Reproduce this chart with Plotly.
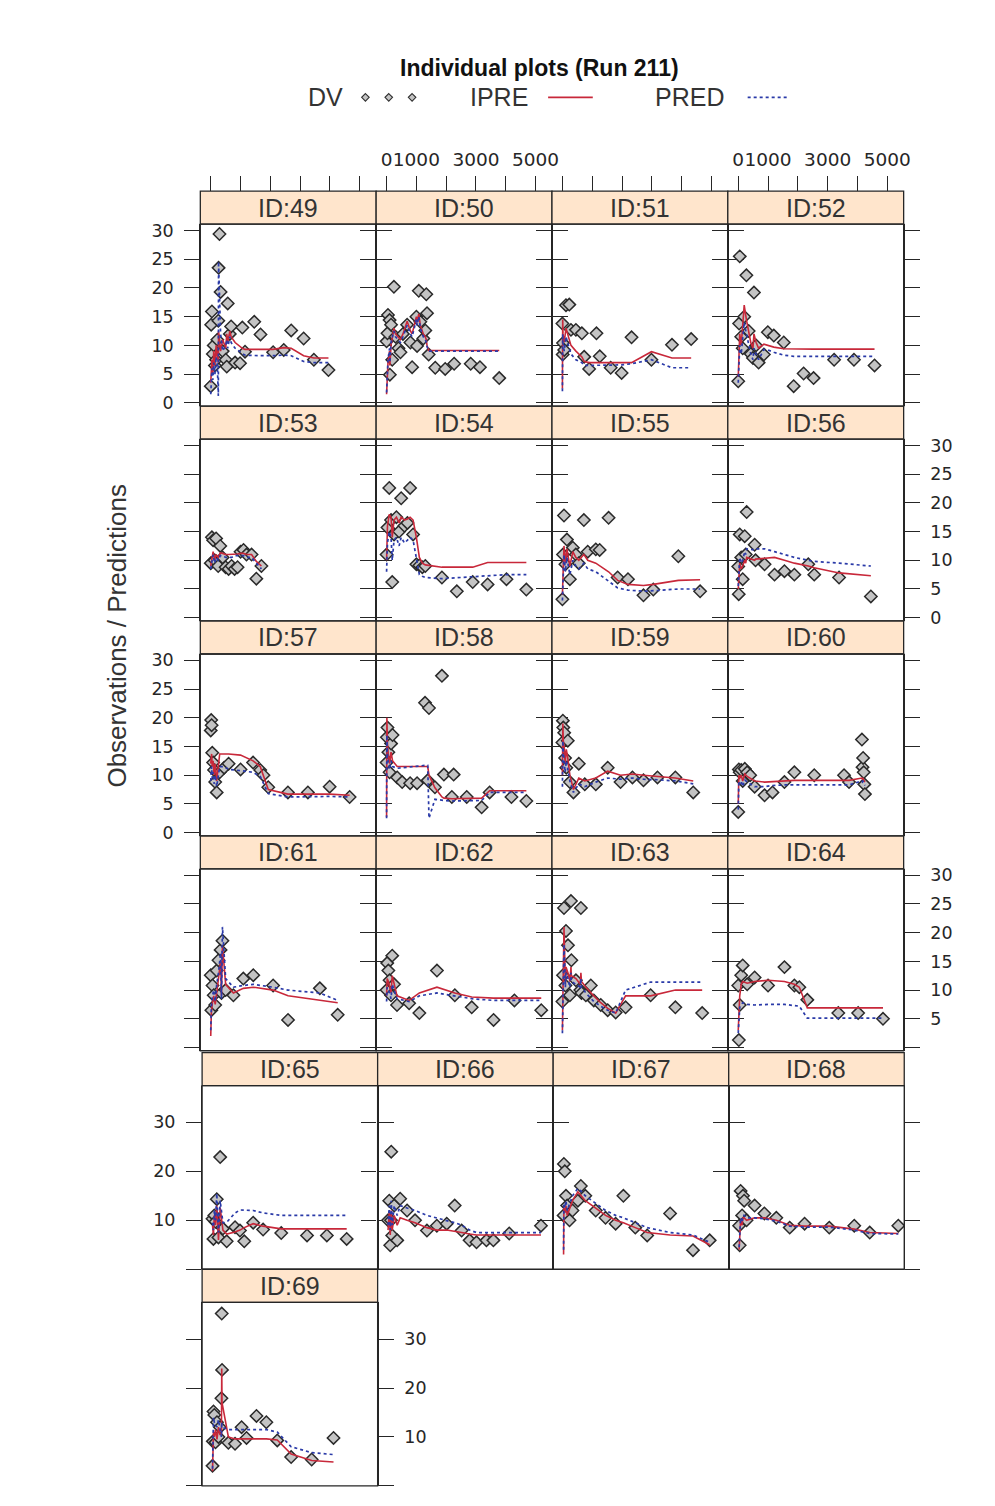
import plotly.graph_objects as go

# page is 995x1506; the browser puts the figure 8 px in from the top-left corner
OFF = 8
W, H = 995 - 2 * OFF, 1506 - 2 * OFF

# ---------------- data ----------------
TIME = {
    49: [0, 15, 40, 70, 100, 140, 180, 220, 255, 262, 293, 330, 400, 503, 537, 570, 640, 683, 817, 983, 1060, 1150, 1460, 1670, 2093, 2450, 2700, 3117, 3460, 3950],
    50: [0, 30, 47, 100, 110, 150, 190, 246, 300, 400, 466, 550, 690, 800, 857, 1000, 1023, 1080, 1133, 1233, 1300, 1333, 1357, 1413, 1633, 1967, 2267, 2823, 3133, 3780],
    51: [0, 10, 20, 60, 120, 230, 287, 453, 653, 730, 897, 1143, 1253, 1620, 1987, 2320, 2987, 3677, 4320],
    52: [0, 30, 50, 100, 150, 200, 273, 350, 420, 493, 527, 600, 683, 860, 993, 1193, 1527, 1860, 2193, 2527, 3217, 3883, 4573],
    53: [0, 40, 80, 130, 180, 250, 320, 400, 500, 600, 700, 800, 900, 1000, 1100, 1200, 1370, 1530, 1700],
    54: [0, 30, 90, 150, 190, 250, 330, 420, 490, 600, 700, 790, 890, 1000, 1100, 1200, 1300, 1857, 2357, 2890, 3390, 4023, 4690],
    55: [0, 20, 53, 100, 150, 250, 350, 450, 550, 720, 850, 1120, 1250, 1550, 1853, 2200, 2720, 3050, 3890, 4620],
    56: [0, 17, 50, 100, 150, 217, 250, 283, 550, 580, 883, 1217, 1550, 1883, 2350, 2550, 3383, 4450],
    57: [0, 15, 30, 50, 80, 110, 150, 200, 300, 450, 600, 1000, 1420, 1660, 1770, 1930, 2590, 3260, 3990, 4660],
    58: [0, 10, 30, 60, 100, 150, 200, 357, 523, 790, 1023, 1290, 1380, 1423, 1623, 1857, 1923, 2190, 2250, 2690, 3190, 3457, 4190, 4690],
    59: [0, 15, 30, 60, 90, 130, 180, 250, 370, 550, 750, 1120, 1520, 1950, 2350, 2720, 3190, 3790, 4390],
    60: [0, 20, 50, 100, 150, 220, 300, 400, 550, 883, 1150, 1550, 1883, 2550, 3550, 3717, 4150, 4170, 4190, 4210, 4230, 4250],
    61: [0, 20, 60, 100, 150, 200, 260, 330, 360, 393, 500, 760, 1093, 1427, 2093, 2593, 3660, 4260],
    62: [0, 20, 60, 100, 150, 190, 250, 350, 757, 1100, 1690, 2290, 2857, 3590, 4290, 5190],
    63: [0, 20, 53, 100, 120, 187, 250, 287, 300, 453, 600, 620, 640, 787, 953, 1053, 1287, 1520, 1787, 2120, 2960, 3790, 4690],
    64: [0, 20, 50, 100, 150, 300, 550, 1000, 1550, 1883, 2050, 2317, 3357, 4023, 4857],
    65: [0, 30, 60, 100, 143, 200, 257, 350, 477, 757, 923, 1067, 1367, 1700, 2310, 3177, 3843, 4510],
    66: [0, 40, 73, 100, 107, 140, 207, 307, 407, 640, 907, 1307, 1640, 1973, 2240, 2473, 2740, 2973, 3307, 3540, 4073, 5140],
    67: [0, 10, 40, 80, 120, 200, 300, 480, 580, 730, 1080, 1410, 1750, 2010, 2410, 2810, 3580, 4350, 4910],
    68: [0, 20, 50, 100, 130, 170, 250, 520, 850, 1250, 1700, 2200, 3030, 3870, 4390, 5350],
    69: [0, 10, 33, 60, 100, 150, 200, 250, 300, 310, 320, 533, 757, 977, 1143, 1477, 1810, 2177, 2643, 3333, 4067],
}

DV = {
    49: [2.9, 13.6, 15.9, 8.5, 10.0, 6.5, 7.5, 11.0, 14.3, 23.5, 29.4, 19.3, 9.0, 7.5, 6.3, 17.3, 12.0, 13.3, 7.0, 6.9, 13.1, 8.9, 14.1, 11.9, 8.8, 9.2, 12.6, 11.2, 7.5, 5.7],
    50: [10.7, 12.1, 15.3, 14.4, 4.9, 13.6, 7.5, 20.2, 11.5, 9.5, 8.8, 12.0, 13.6, 10.5, 6.2, 15.0, 9.9, 19.5, 14.1, 11.2, 12.6, 18.9, 15.6, 8.4, 6.1, 5.9, 6.8, 6.8, 6.2, 4.3],
    51: [13.8, 8.4, 10.4, 9.2, 17.0, 17.1, 12.7, 12.7, 12.1, 8.0, 5.9, 12.1, 8.1, 6.1, 5.2, 11.4, 7.5, 10.1, 11.1],
    52: [3.75, 13.8, 25.5, 11.5, 9.5, 15.0, 22.2, 12.5, 8.5, 7.8, 19.2, 10.0, 7.0, 8.4, 12.3, 11.7, 10.5, 2.9, 5.1, 4.3, 7.5, 7.5, 6.5],
    53: [9.5, 14.0, 13.5, 10.0, 13.8, 9.0, 12.5, 10.5, 8.8, 8.5, 9.0, 8.5, 8.8, 11.5, 11.8, 11.0, 11.0, 6.8, 9.0],
    54: [11.0, 15.7, 22.6, 17.0, 6.2, 14.5, 17.5, 15.0, 20.8, 16.0, 16.5, 22.6, 14.5, 9.3, 9.1, 8.8, 9.0, 7.0, 4.6, 6.2, 5.8, 6.7, 4.9],
    55: [3.2, 11.0, 17.8, 9.3, 13.6, 6.7, 12.2, 11.0, 9.5, 17.0, 11.5, 11.9, 11.8, 17.4, 7.0, 6.7, 3.9, 4.9, 10.7, 4.6],
    56: [8.9, 4.1, 14.5, 10.5, 6.7, 14.2, 11.0, 18.4, 12.7, 10.0, 9.3, 7.5, 8.1, 7.5, 9.3, 7.5, 7.0, 3.7],
    57: [17.8, 19.6, 18.7, 13.9, 12.2, 10.9, 8.8, 7.0, 10.5, 11.3, 12.0, 11.0, 12.2, 10.9, 10.0, 7.9, 7.0, 7.0, 8.0, 6.2],
    58: [12.2, 16.6, 18.3, 14.0, 10.5, 15.5, 17.0, 9.6, 8.8, 8.6, 8.6, 22.6, 9.1, 21.7, 7.9, 27.3, 10.1, 6.2, 10.1, 6.2, 4.4, 7.0, 6.2, 5.5],
    59: [15.7, 19.5, 18.3, 17.4, 13.0, 11.3, 16.0, 8.8, 7.0, 12.0, 8.4, 8.4, 11.3, 8.8, 9.6, 9.1, 9.6, 9.6, 7.0],
    60: [3.6, 11.0, 10.5, 10.9, 9.0, 11.1, 10.5, 10.0, 8.0, 6.5, 7.0, 8.8, 10.5, 10.0, 10.0, 8.8, 16.2, 11.4, 13.0, 10.5, 8.4, 6.7],
    61: [12.6, 6.5, 10.8, 9.1, 7.4, 13.4, 15.2, 17.0, 9.5, 18.6, 10.0, 9.1, 12.0, 12.6, 10.8, 4.8, 10.3, 5.7],
    62: [10.0, 14.7, 13.4, 11.7, 9.1, 16.0, 11.0, 7.4, 7.7, 6.0, 13.4, 9.1, 7.0, 4.8, 8.2, 6.5],
    63: [8.0, 12.6, 24.3, 10.8, 20.3, 17.8, 9.1, 25.5, 15.2, 11.7, 10.0, 24.3, 9.5, 9.1, 10.8, 8.2, 7.4, 6.5, 6.1, 7.0, 9.1, 7.0, 6.0],
    64: [10.8, 1.3, 7.4, 12.6, 14.3, 11.0, 12.2, 10.8, 14.0, 10.8, 10.5, 8.3, 6.0, 6.0, 5.0],
    65: [10.3, 6.2, 11.0, 9.7, 14.3, 6.5, 22.9, 8.3, 5.7, 8.6, 7.9, 5.7, 9.5, 8.1, 7.4, 6.9, 6.9, 6.2],
    66: [10.0, 14.0, 4.9, 10.0, 24.0, 6.9, 13.0, 5.9, 14.4, 12.0, 10.0, 7.9, 8.9, 9.3, 13.0, 7.9, 5.9, 5.5, 5.9, 5.9, 7.3, 8.9],
    67: [11.0, 21.5, 20.0, 15.0, 13.0, 10.0, 12.0, 14.0, 17.0, 15.0, 12.0, 10.5, 9.3, 15.0, 8.5, 6.9, 11.4, 3.9, 5.9],
    68: [8.9, 4.9, 16.0, 11.0, 15.0, 14.0, 10.0, 13.0, 11.4, 10.5, 8.5, 9.3, 8.5, 8.9, 7.5, 8.9],
    69: [4.1, 9.1, 15.2, 14.5, 8.9, 13.0, 10.0, 12.0, 17.9, 35.2, 23.7, 8.8, 8.6, 12.0, 9.8, 14.3, 13.0, 9.3, 5.9, 5.4, 9.8],
}

IPRE = {
    49: [3.5, 4.5, 7.5, 5.0, 9.0, 6.5, 10.0, 8.0, 7.0, 12.5, 10.5, 9.0, 11.0, 9.5, 12.0, 10.5, 12.5, 11.5, 10.5, 9.8, 9.5, 9.3, 9.3, 9.3, 9.3, 9.6, 9.5, 8.2, 7.8, 7.8],
    50: [1.5, 5.0, 7.0, 9.0, 6.5, 10.0, 11.0, 13.0, 12.0, 11.5, 11.0, 12.0, 14.2, 12.5, 12.0, 15.0, 14.0, 15.5, 13.5, 12.0, 11.5, 11.0, 10.0, 9.1, 9.1, 9.1, 9.1, 9.1, 9.1, 9.1],
    51: [2.5, 14.5, 12.0, 10.5, 13.0, 11.0, 10.0, 9.0, 8.0, 7.2, 7.0, 7.0, 7.0, 7.0, 7.0, 7.0, 8.9, 7.8, 7.8],
    52: [4.5, 9.0, 12.0, 10.0, 13.5, 17.0, 14.5, 12.0, 10.5, 9.5, 12.0, 10.5, 9.5, 10.2, 10.0, 9.7, 9.4, 9.35, 9.35, 9.35, 9.35, 9.35, 9.35],
    53: [9.0, 10.5, 11.5, 10.0, 11.0, 10.5, 11.3, 11.2, 11.0, 11.0, 11.0, 11.1, 11.1, 11.2, 11.2, 11.0, 11.0, 9.8, 9.0],
    54: [10.0, 16.0, 18.0, 17.5, 14.0, 17.0, 17.5, 16.5, 17.5, 17.0, 17.2, 17.5, 17.0, 14.0, 10.5, 9.5, 9.2, 8.8, 8.8, 8.8, 9.6, 9.6, 9.6],
    55: [4.0, 10.0, 12.5, 9.5, 12.0, 9.0, 11.5, 10.5, 10.0, 11.0, 10.0, 9.5, 9.0, 8.0, 6.5, 5.8, 5.6, 5.8, 6.5, 6.6],
    56: [5.0, 7.0, 9.5, 8.5, 9.0, 10.0, 9.5, 10.5, 10.0, 10.2, 10.3, 10.5, 10.0, 9.5, 9.0, 8.7, 7.8, 7.3],
    57: [12.0, 13.5, 13.7, 11.5, 12.5, 10.0, 12.0, 9.0, 13.7, 13.7, 13.7, 13.5, 12.5, 11.5, 10.0, 7.5, 6.7, 6.7, 6.7, 6.5],
    58: [2.7, 20.0, 15.5, 13.5, 12.0, 14.0, 12.5, 11.5, 11.5, 11.5, 11.5, 11.5, 11.5, 10.0, 7.8, 6.2, 6.0, 5.9, 5.9, 5.9, 6.0, 7.3, 7.3, 7.3],
    59: [10.0, 19.0, 16.0, 15.0, 12.0, 14.5, 13.0, 10.0, 7.5, 9.5, 9.0, 9.5, 10.7, 10.0, 10.2, 10.0, 9.8, 9.5, 9.0],
    60: [5.0, 10.0, 9.5, 10.0, 9.0, 10.2, 9.8, 9.5, 9.0, 8.8, 8.9, 9.0, 9.1, 9.1, 9.1, 9.1, 9.5, 9.3, 9.4, 9.2, 9.0, 8.8],
    61: [2.0, 6.0, 8.0, 9.0, 7.5, 10.0, 12.0, 15.0, 9.0, 17.8, 11.0, 9.5, 10.3, 10.5, 10.0, 9.0, 8.3, 7.8],
    62: [9.0, 12.0, 11.5, 10.5, 9.5, 12.5, 11.0, 9.0, 8.2, 9.5, 10.5, 9.5, 8.8, 8.6, 8.6, 8.6],
    63: [3.0, 12.0, 21.0, 11.0, 14.0, 13.0, 11.5, 14.0, 12.5, 12.0, 11.0, 13.0, 11.5, 10.5, 9.5, 9.0, 7.8, 6.8, 6.0, 9.0, 9.0, 10.0, 10.0],
    64: [3.0, 6.0, 9.0, 11.0, 11.5, 11.2, 11.5, 11.7, 11.5, 11.0, 10.5, 6.9, 6.9, 6.9, 6.9],
    65: [9.0, 7.0, 11.0, 9.0, 13.0, 6.0, 12.6, 8.0, 7.2, 7.6, 8.0, 8.5, 9.3, 8.8, 8.25, 8.25, 8.25, 8.25],
    66: [8.0, 11.5, 7.0, 9.5, 12.0, 8.0, 11.0, 9.0, 10.5, 10.0, 9.5, 8.5, 8.0, 8.0, 7.8, 7.5, 7.2, 7.0, 7.0, 7.0, 7.0, 7.0],
    67: [3.0, 12.5, 11.5, 13.0, 11.0, 12.5, 14.0, 15.8, 15.0, 14.0, 12.5, 11.0, 10.0, 9.5, 8.5, 7.5, 7.0, 6.8, 5.0],
    68: [4.0, 7.0, 10.0, 9.0, 10.5, 10.5, 10.0, 10.5, 10.5, 10.0, 9.0, 8.8, 8.8, 8.2, 7.5, 7.3],
    69: [3.0, 9.0, 11.0, 10.0, 11.5, 9.5, 12.0, 10.5, 10.5, 24.0, 17.0, 10.0, 9.6, 9.6, 9.6, 9.6, 9.6, 9.4, 6.5, 5.2, 4.9],
}

PRED = {
    49: [1.5, 3.0, 6.0, 4.0, 7.0, 5.0, 8.0, 6.5, 1.2, 24.6, 17.0, 12.0, 9.0, 10.0, 11.0, 9.5, 11.5, 10.5, 9.5, 8.8, 8.6, 8.3, 8.2, 8.2, 8.2, 8.3, 8.2, 7.2, 7.0, 7.0],
    50: [1.8, 5.5, 7.5, 9.5, 7.0, 10.5, 11.5, 12.5, 11.5, 11.0, 10.5, 11.5, 13.5, 12.0, 11.5, 14.5, 13.5, 15.0, 13.0, 11.5, 11.0, 10.5, 9.8, 9.0, 9.0, 9.0, 9.0, 9.0, 9.0, 9.0],
    51: [2.0, 12.0, 10.5, 9.0, 11.5, 9.5, 8.5, 7.5, 7.0, 6.5, 6.5, 6.5, 6.5, 6.5, 6.6, 6.8, 7.5, 6.1, 6.1],
    52: [3.5, 7.5, 10.0, 8.5, 11.0, 14.0, 12.0, 10.0, 8.5, 7.5, 9.5, 8.5, 7.5, 9.3, 9.2, 8.8, 8.3, 8.1, 8.1, 8.1, 8.1, 8.1, 8.1],
    53: [8.5, 10.0, 11.0, 9.5, 10.5, 10.0, 10.8, 10.8, 10.5, 10.5, 10.5, 10.8, 10.8, 10.8, 10.8, 10.5, 10.5, 9.5, 8.5],
    54: [8.0, 13.0, 15.0, 14.0, 10.0, 13.5, 14.0, 12.5, 14.0, 13.0, 13.5, 14.0, 13.5, 10.0, 7.5, 7.2, 7.0, 6.8, 7.0, 7.2, 7.3, 7.5, 7.5],
    55: [3.0, 8.5, 11.0, 8.0, 10.5, 7.5, 10.0, 9.0, 8.5, 9.5, 8.5, 8.0, 7.5, 6.5, 5.2, 4.8, 4.6, 4.7, 5.0, 5.0],
    56: [5.5, 8.0, 10.5, 9.5, 10.0, 11.5, 11.0, 12.0, 11.8, 12.0, 12.0, 11.5, 11.0, 10.5, 10.0, 9.8, 9.5, 9.0],
    57: [9.0, 11.0, 11.5, 9.5, 10.5, 8.5, 10.0, 8.0, 11.5, 11.5, 11.0, 10.8, 10.5, 9.8, 8.5, 6.8, 6.2, 6.3, 6.3, 6.2],
    58: [2.5, 17.0, 13.5, 12.0, 11.0, 12.5, 11.5, 11.2, 11.3, 11.5, 11.6, 11.7, 11.7, 2.5, 5.8, 5.6, 5.6, 5.5, 5.5, 5.5, 5.6, 7.0, 7.0, 7.0],
    59: [8.0, 16.0, 14.0, 12.5, 10.5, 12.5, 11.0, 9.0, 7.0, 8.5, 8.0, 8.8, 9.5, 9.3, 9.5, 9.3, 9.2, 9.0, 8.5],
    60: [4.0, 9.0, 8.5, 9.0, 8.0, 9.2, 8.8, 8.5, 8.0, 8.0, 8.2, 8.3, 8.3, 8.3, 8.3, 8.3, 9.0, 8.8, 8.9, 8.6, 8.4, 8.2],
    61: [3.0, 7.0, 9.0, 10.0, 8.0, 11.0, 13.0, 16.5, 8.5, 21.0, 12.0, 10.5, 10.8, 11.0, 10.5, 10.0, 9.5, 8.2],
    62: [8.0, 10.5, 10.0, 9.5, 8.5, 11.0, 10.0, 8.5, 8.0, 9.0, 9.5, 9.0, 8.5, 8.2, 8.2, 8.2],
    63: [2.5, 11.0, 18.0, 10.5, 13.0, 12.0, 10.5, 13.0, 11.5, 11.0, 10.5, 12.0, 10.5, 9.5, 8.5, 8.0, 7.2, 6.5, 6.0, 10.0, 11.4, 11.4, 11.4],
    64: [2.5, 5.0, 7.0, 7.5, 7.8, 7.5, 7.4, 7.5, 7.5, 7.3, 7.2, 5.1, 5.1, 5.1, 5.1],
    65: [9.5, 8.0, 12.0, 10.0, 15.5, 7.5, 14.0, 9.5, 9.6, 11.5, 12.1, 12.1, 12.0, 11.5, 11.0, 11.0, 11.0, 11.0],
    66: [9.0, 13.0, 8.0, 11.0, 14.0, 9.0, 13.0, 11.0, 13.0, 12.5, 12.0, 11.0, 10.5, 10.0, 9.5, 9.0, 8.0, 7.5, 7.5, 7.5, 7.5, 7.5],
    67: [4.0, 13.5, 12.5, 14.0, 12.0, 13.5, 15.0, 16.5, 16.0, 15.0, 13.5, 12.0, 11.0, 10.5, 9.5, 8.5, 7.5, 7.0, 5.5],
    68: [4.5, 7.5, 10.5, 9.5, 11.0, 11.0, 10.5, 10.5, 10.3, 9.8, 8.8, 8.6, 8.6, 8.0, 7.3, 7.2],
    69: [3.5, 12.0, 14.0, 13.0, 12.5, 12.0, 13.5, 12.0, 10.0, 13.0, 12.0, 11.5, 11.5, 11.5, 11.5, 11.5, 11.5, 11.0, 8.0, 6.8, 6.4],
}

IDS_PAGE1 = list(range(49, 65))
IDS_PAGE2 = list(range(65, 70))

X_TICKS = [0, 1000, 2000, 3000, 4000, 5000]
X_TICK_LABELS = ["0", "1000", "", "3000", "", "5000"]
Y_TICKS_P1 = [0, 5, 10, 15, 20, 25, 30]
Y_TICKS_P2 = [0, 10, 20, 30]
Y_LABELS_P2 = ["", "10", "20", "30"]

TITLE = "Individual plots (Run 211)"
YTITLE = "Observations / Predictions"

# ---------------- styling ----------------
INK = "#262626"
STRIP_FILL = "#FFE5CC"
RED = "#C8283A"
BLUE = "#2A3AA8"
PT_FILL = "#C4C4C4"
YTICK_FONT = dict(family="DejaVu Sans", size=17.5, color=INK)
XTICK_FONT = dict(family="DejaVu Sans", size=18.5, color=INK)
X_RANGE = [-350, 5550]
Y_RANGE_P1 = [-0.57, 31.1]
Y_RANGE_P2 = [0.0, 37.5]


def px(x):
    return (x - OFF) / W


def py(y):
    return 1 - (y - OFF) / H


panels = []
for i, pid in enumerate(IDS_PAGE1):
    r, c = divmod(i, 4)
    L = 201.7 + 177.1 * c
    st = 188.5 + 216.5 * r
    panels.append(dict(id=pid, page=1, r=r, c=c, L=L, R=L + 177.1,
                       st=st, sb=st + 33.3, pb=st + 216.5))
for i, pid in enumerate(IDS_PAGE2):
    r, c = divmod(i, 4)
    L = 203.5 + 176.8 * c
    st = 1056.3 + 218.3 * r
    panels.append(dict(id=pid, page=2, r=r, c=c, L=L, R=L + 176.8,
                       st=st, sb=st + 33.3, pb=st + 218.3))

fig = go.Figure()
shapes = []
annotations = []
layout = {}

for k, p in enumerate(panels, start=1):
    xa = "x" if k == 1 else f"x{k}"
    ya = "y" if k == 1 else f"y{k}"
    pid = p["id"]

    fig.add_trace(go.Scatter(
        x=TIME[pid], y=DV[pid], mode="markers", xaxis=xa, yaxis=ya,
        marker=dict(symbol="diamond", size=9.5, color=PT_FILL,
                    line=dict(color="#2a2a2a", width=1.5)),
        hoverinfo="skip"))
    fig.add_trace(go.Scatter(
        x=TIME[pid], y=IPRE[pid], mode="lines", xaxis=xa, yaxis=ya,
        line=dict(color=RED, width=1.6), hoverinfo="skip"))
    fig.add_trace(go.Scatter(
        x=TIME[pid], y=PRED[pid], mode="lines", xaxis=xa, yaxis=ya,
        line=dict(color=BLUE, width=1.7, dash="dot"), hoverinfo="skip"))

    xkey = "xaxis" if k == 1 else f"xaxis{k}"
    ykey = "yaxis" if k == 1 else f"yaxis{k}"
    xdom = [px(p["L"]), px(p["R"])]
    ydom = [py(p["pb"]), py(p["sb"])]

    if p["page"] == 1 and p["r"] == 0:
        xax = dict(domain=xdom, range=X_RANGE, anchor="free", position=py(p["st"]),
                   side="top", showline=False, showgrid=False, zeroline=False,
                   ticks="outside", ticklen=15, tickwidth=1.3, tickcolor=INK,
                   tickvals=X_TICKS, ticktext=X_TICK_LABELS, tickangle=0,
                   showticklabels=(p["c"] % 2 == 1), tickfont=XTICK_FONT,
                   ticklabelstandoff=3)
    else:
        xax = dict(domain=xdom, range=X_RANGE, anchor=ya, visible=False)
    layout[xkey] = xax

    side = "left" if p["r"] % 2 == 0 else "right"
    if p["page"] == 1:
        tv = Y_TICKS_P1
        tt = [str(v) for v in Y_TICKS_P1]
        if p["r"] == 3:
            tt[0] = ""
        yr = Y_RANGE_P1
    else:
        tv = Y_TICKS_P2
        tt = Y_LABELS_P2
        yr = Y_RANGE_P2
    show_lab = (side == "left" and p["c"] == 0) or \
               (side == "right" and (p["c"] == 3 or (p["page"] == 2 and p["r"] == 1)))
    layout[ykey] = dict(domain=ydom, range=yr, anchor=xa, side=side,
                        showline=True, linecolor=INK, linewidth=1.3, mirror="ticks",
                        ticks="outside", ticklen=15, tickwidth=1.3, tickcolor=INK,
                        tickvals=tv, ticktext=tt, showticklabels=show_lab, tickangle=0,
                        tickfont=YTICK_FONT, showgrid=False, zeroline=False,
                        ticklabelstandoff=7)

    # strip and panel box
    shapes.append(dict(type="rect", xref="paper", yref="paper",
                       x0=px(p["L"]), x1=px(p["R"]), y0=py(p["sb"]), y1=py(p["st"]),
                       fillcolor=STRIP_FILL, line=dict(color=INK, width=1.3), layer="below"))
    shapes.append(dict(type="rect", xref="paper", yref="paper",
                       x0=px(p["L"]), x1=px(p["R"]), y0=py(p["pb"]), y1=py(p["sb"]),
                       line=dict(color=INK, width=1.3), fillcolor="rgba(0,0,0,0)"))
    annotations.append(dict(text=f"ID:{pid}", xref="paper", yref="paper",
                            x=px((p["L"] + p["R"]) / 2), y=py((p["st"] + p["sb"]) / 2),
                            xanchor="center", yanchor="middle", showarrow=False,
                            font=dict(family="Liberation Sans", size=25, color="#333333")))

# title, legend and y title
annotations.append(dict(text=f"<b>{TITLE}</b>", xref="paper", yref="paper",
                        x=px(543), y=py(64), xanchor="center", yanchor="middle",
                        showarrow=False, font=dict(family="Liberation Sans", size=23, color="#111111")))
LEG_Y = 94
for label, cx in [("DV", 328), ("IPRE", 503), ("PRED", 694)]:
    annotations.append(dict(text=label, xref="paper", yref="paper", x=px(cx), y=py(LEG_Y),
                            xanchor="center", yanchor="middle", showarrow=False,
                            font=dict(family="Liberation Sans", size=25, color="#333333")))
for cx in [368, 391.5, 415]:
    d = 3.8
    path = (f"M {px(cx)},{py(LEG_Y - d)} L {px(cx + d)},{py(LEG_Y)} "
            f"L {px(cx)},{py(LEG_Y + d)} L {px(cx - d)},{py(LEG_Y)} Z")
    shapes.append(dict(type="path", xref="paper", yref="paper", path=path,
                       fillcolor=PT_FILL, line=dict(color="#303030", width=1.1)))
shapes.append(dict(type="line", xref="paper", yref="paper", x0=px(552), x1=px(597),
                   y0=py(LEG_Y), y1=py(LEG_Y), line=dict(color=RED, width=1.6)))
shapes.append(dict(type="line", xref="paper", yref="paper", x0=px(753), x1=px(793),
                   y0=py(LEG_Y), y1=py(LEG_Y), line=dict(color=BLUE, width=1.6, dash="dot")))
annotations.append(dict(text=YTITLE, xref="paper", yref="paper", x=px(118), y=py(637),
                        xanchor="center", yanchor="middle", textangle=-90, showarrow=False,
                        font=dict(family="Liberation Sans", size=26, color="#333333")))

fig.update_layout(width=W, height=H, autosize=False,
                  margin=dict(l=0, r=0, t=0, b=0, pad=0),
                  paper_bgcolor="white", plot_bgcolor="white",
                  showlegend=False, hovermode=False,
                  shapes=shapes, annotations=annotations, **layout)

fig.write_html("out.html")
